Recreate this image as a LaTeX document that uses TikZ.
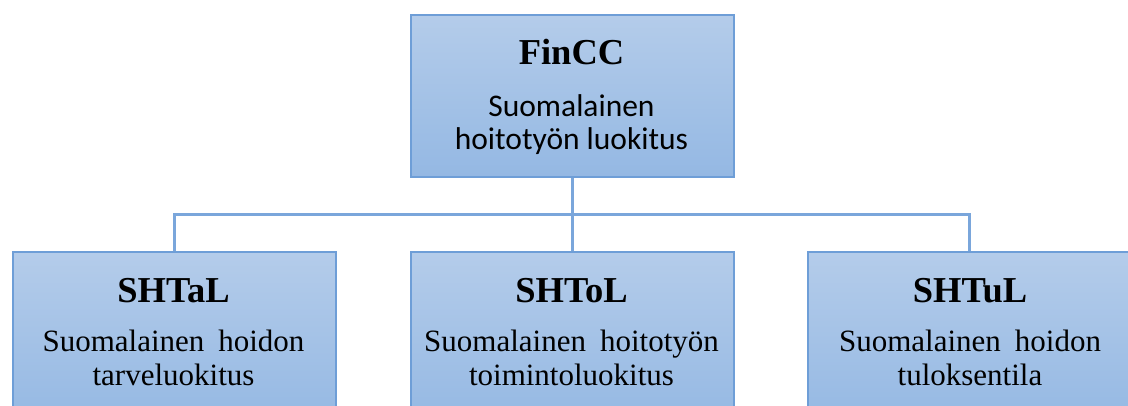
\documentclass[tikz,border=0pt]{standalone}
\usepackage{fontspec}
\setmainfont{Liberation Serif}
\newfontfamily\calfont{Carlito}
\definecolor{boxtop}{RGB}{180,204,234}
\definecolor{boxbot}{RGB}{148,184,227}
\definecolor{boxline}{RGB}{110,158,215}
\definecolor{conn}{RGB}{122,166,219}
\begin{document}
\begin{tikzpicture}[x=1pt,y=-1pt,
  box/.style={rectangle, draw=boxline, line width=2pt, top color=boxtop, bottom color=boxbot,
    inner sep=0pt, minimum width=323pt, minimum height=162pt, anchor=north west},
  lowbox/.style={box, minimum height=175pt},
  title/.style={anchor=base, inner sep=0pt, font=\fontsize{36.5}{40}\selectfont\bfseries},
  calline/.style={anchor=base, inner sep=0pt, font=\fontsize{31.5}{35}\selectfont\calfont},
  serline/.style={anchor=base, inner sep=0pt, font=\fontsize{31}{35}\selectfont},
  connector/.style={draw=conn, line width=3pt}]
\useasboundingbox (0,0) rectangle (1128,405);
\fill[white] (0,0) rectangle (1128,405);
\clip (0,0) rectangle (1128,405);
% boxes
\node[box] (top) at (410,14) {};
\node[lowbox] (left) at (12,251) {};
\node[lowbox] (mid) at (410,251) {};
\node[lowbox] (right) at (807,251) {};
% connectors
\coordinate (bus) at (571.5,214);
\draw[connector] (top.south) -- (top.south |- bus);
\draw[connector] (left.north) -- (left.north |- bus) -- (right.north |- bus) -- (right.north);
\draw[connector] (mid.north) -- (mid.north |- bus);
% texts
\node[title] (topT) at (571.5,64) {FinCC};
\node[calline] (topA) at (571.5,116) {Suomalainen};
\node[calline] (topB) at (571.5,149) {hoitotyön luokitus};
\node[title] (leftT) at (173.5,302.5) {SHTaL};
\node[serline] (leftA) at (173.5,351) {Suomalainen\hspace{14pt}hoidon};
\node[serline] (leftB) at (173.5,385) {tarveluokitus};
\node[title] (midT) at (571.5,302.5) {SHToL};
\node[serline] (midA) at (571.5,351) {Suomalainen\hspace{14pt}hoitotyön};
\node[serline] (midB) at (571.5,385) {toimintoluokitus};
\node[title] (rightT) at (970,302.5) {SHTuL};
\node[serline] (rightA) at (970,351) {Suomalainen\hspace{14pt}hoidon};
\node[serline] (rightB) at (970,385) {tuloksentila};
\end{tikzpicture}
\end{document}
